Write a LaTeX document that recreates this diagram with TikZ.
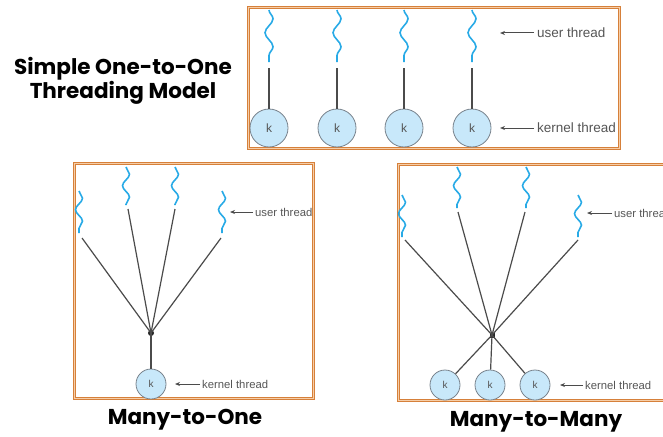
\documentclass[tikz,border=0pt]{standalone}
\usepackage{fontspec}
\setmainfont{Liberation Sans}
\newfontfamily\titlefont{Poppins}
\usetikzlibrary{decorations.pathmorphing, arrows.meta, positioning}
\definecolor{frameorange}{RGB}{214,128,58}
\definecolor{framelight}{RGB}{246,206,168}
\definecolor{threadblue}{RGB}{40,170,230}
\definecolor{kfill}{RGB}{200,232,250}
\definecolor{kdraw}{RGB}{120,130,140}
\definecolor{wiregray}{RGB}{75,75,75}
\definecolor{labelgray}{RGB}{85,85,85}
\tikzset{
  frame/.style={
    draw=frameorange, line width=0.8pt, double=framelight, double distance=0.9pt
  },
  uthread/.style={
    threadblue, line width=1.6pt, decorate,
    decoration={snake, amplitude=4pt, segment length=28pt}
  },
  uthreadsmall/.style={
    uthread, decoration={snake, amplitude=3.5pt, segment length=23pt}
  },
  wire/.style={
    wiregray, line width=1.2pt
  },
  kbig/.style={
    circle, draw=kdraw, fill=kfill, line width=0.8pt, minimum size=38pt,
    inner sep=0pt, text=labelgray, font=\fontsize{12}{12}\selectfont
  },
  ksmall/.style={
    kbig, minimum size=30pt, font=\fontsize{10}{10}\selectfont
  },
  jdot/.style={
    circle, fill=black!85, minimum size=6pt, inner sep=0pt
  },
  jsquare/.style={
    rectangle, fill=black!85, minimum size=5pt, inner sep=0pt
  },
  lbl/.style={
    anchor=west, inner sep=3pt, text=labelgray, font=\fontsize{13.5}{14}\selectfont
  },
  lblsmall/.style={
    lbl, inner sep=2pt, font=\fontsize{11.3}{12}\selectfont
  },
  ptr/.style={
    -{Stealth[length=5pt,width=4pt]}, line width=1pt, color=wiregray
  },
  title/.style={
    font=\titlefont\bfseries\fontsize{21.5}{24}\selectfont, align=center
  }
}

\begin{document}
\begin{tikzpicture}[x=1pt, y=-1pt]
      \useasboundingbox (0,0) rectangle (663,436);

      % Titles
      \node[title] (tone) at (123,81) {Simple One-to-One\\Threading Model};
      \node[title] (tmo) at (185,420) {Many-to-One};
      \node[title] (tmm) at (536,422) {Many-to-Many};

      % One-to-one block
      \draw[frame] (248.5,7.5) rectangle (619.5,148.5);
      \draw[uthread] (269,10) -- (269,62);
      \draw[uthread] (337,10) -- (337,62);
      \draw[uthread] (404,10) -- (404,62);
      \draw[uthread] (472,10) -- (472,62);
      \coordinate (s1) at (269,68);
      \coordinate (s2) at (337,68);
      \coordinate (s3) at (404,68);
      \coordinate (s4) at (472,68);
      \node[kbig] (k1) at (269,128) {k};
      \node[kbig] (k2) at (337,128) {k};
      \node[kbig] (k3) at (404,128) {k};
      \node[kbig] (k4) at (472,128) {k};
      \draw[wire] (s1) -- (k1);
      \draw[wire] (s2) -- (k2);
      \draw[wire] (s3) -- (k3);
      \draw[wire] (s4) -- (k4);
      \node[lbl] (ut1) at (534,33) {user thread};
      \coordinate (ua1) at (500,33);
      \draw[ptr] (ut1) -- (ua1);
      \node[lbl] (kt1) at (534,128) {kernel thread};
      \coordinate (ka1) at (500,128);
      \draw[ptr] (kt1) -- (ka1);

      % Many-to-one block
      \draw[frame] (74.5,163.5) rectangle (313.5,398.5);
      \draw[uthreadsmall] (79,191) -- (79,233);
      \draw[uthreadsmall] (126,167) -- (126,205);
      \draw[uthreadsmall] (175,167) -- (175,205);
      \draw[uthreadsmall] (222,191) -- (222,233);
      \coordinate (a1) at (82,238);
      \coordinate (a2) at (128,209);
      \coordinate (a3) at (175,209);
      \coordinate (a4) at (221,238);
      \node[jdot] (j1) at (151,333) {};
      \node[ksmall] (m1) at (151,384) {k};
      \draw[wire] (a1) -- (j1.center);
      \draw[wire] (a2) -- (j1.center);
      \draw[wire] (a3) -- (j1.center);
      \draw[wire] (a4) -- (j1.center);
      \draw[wire] (j1.center) -- (m1);
      \node[lblsmall] (ut2) at (253,212) {user thread};
      \coordinate (ua2) at (230,212);
      \draw[ptr] (ut2) -- (ua2);
      \node[lblsmall] (kt2) at (200,384) {kernel thread};
      \coordinate (ka2) at (175,384);
      \draw[ptr] (kt2) -- (ka2);

      % Many-to-many block
      \draw[frame] (398.5,164.5) rectangle (680,400.5);
      \draw[uthreadsmall] (402,195) -- (402,237);
      \draw[uthreadsmall] (457,167) -- (457,208);
      \draw[uthreadsmall] (526,167) -- (526,208);
      \draw[uthreadsmall] (578,195) -- (578,237);
      \coordinate (b1) at (405,240);
      \coordinate (b2) at (458,212);
      \coordinate (b3) at (525,212);
      \coordinate (b4) at (578,240);
      \node[jsquare] (j2) at (492,335) {};
      \node[ksmall] (n1) at (445,385) {k};
      \node[ksmall] (n2) at (490,385) {k};
      \node[ksmall] (n3) at (535,385) {k};
      \draw[wire] (b1) -- (j2.center);
      \draw[wire] (b2) -- (j2.center);
      \draw[wire] (b3) -- (j2.center);
      \draw[wire] (b4) -- (j2.center);
      \draw[wire] (j2.center) -- (n1);
      \draw[wire] (j2.center) -- (n2);
      \draw[wire] (j2.center) -- (n3);
      \node[lblsmall] (ut3) at (612,213) {user thread};
      \coordinate (ua3) at (587,213);
      \draw[ptr] (ut3) -- (ua3);
      \node[lblsmall] (kt3) at (583,385) {kernel thread};
      \coordinate (ka3) at (560,385);
      \draw[ptr] (kt3) -- (ka3);
    \end{tikzpicture}
\end{document}
